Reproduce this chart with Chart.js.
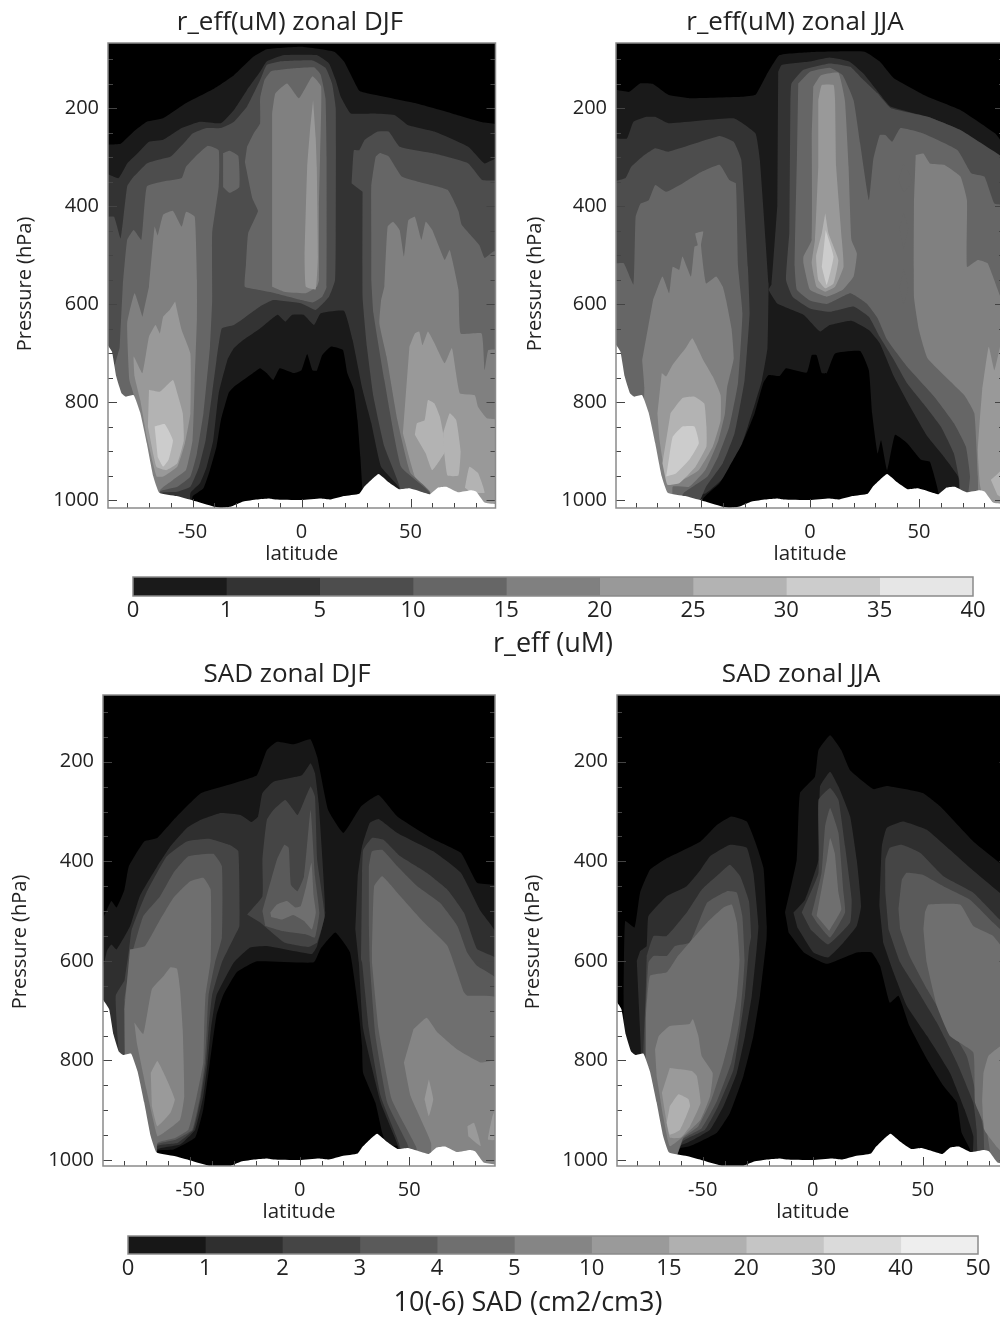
<!DOCTYPE html>
<html>
<head>
<meta charset="utf-8">
<title>r_eff and SAD zonal means</title>
<script src="https://cdn.jsdelivr.net/npm/chart.js@4"></script>
<style>
    html, body { margin: 0; padding: 0; background: #fff; }
    #page { position: relative; width: 1000px; height: 1317px; overflow: hidden; }
    canvas { position: absolute; filter: blur(0.5px); }
</style>
</head>
<body>
<div id="page"></div>
<script>
// tick labels and colour bars
const latTicks = [-50, 0, 50];
const pressureTicks = [200, 400, 600, 800, 1000];
const pressureGrid = [100, 150, 200, 250, 300, 350, 400, 450, 500, 550, 600, 650, 700, 750, 800, 850, 900, 950, 1000];
const reffLevels = ['0', '1', '5', '10', '15', '20', '25', '30', '35', '40'];
const sadLevels = ['0', '1', '2', '3', '4', '5', '10', '15', '20', '30', '40', '50'];
const reffGreys = ['#000000', '#1a1a1a', '#333333', '#4d4d4d', '#666666', '#808080', '#999999', '#b3b3b3', '#cccccc', '#e6e6e6'];
const sadGreys = ['#000000', '#171717', '#2f2f2f', '#454545', '#5a5a5a', '#6f6f6f', '#858585', '#9a9a9a', '#b0b0b0', '#c5c5c5', '#dadada', '#eeeeee'];

// every contour below is [latitude, pressure hPa]
const surface = [[-90, 677], [-87, 697], [-85, 748], [-82.6, 782], [-80.6, 789], [-77, 786], [-74, 822], [-71, 884], [-68, 952], [-65.3, 985], [-57.3, 992], [-49.8, 1001], [-40.5, 1013], [-36.5, 1016], [-32.7, 1014], [-26.7, 1003], [-20.4, 999], [-15, 997], [-12, 999], [0, 1000], [8.8, 997], [13.4, 999], [19.4, 992], [26.5, 987], [28.8, 973], [35.3, 947], [40, 964], [44.7, 978], [49.5, 976], [55.6, 984], [59, 988], [62.5, 975], [66.4, 973], [71.7, 984], [77.9, 980], [80.2, 983], [84, 1005], [90, 1010], [90, 1040], [-90, 1040]];
const sky = [[-90, 40], [90, 40], [90, 1040], [-90, 1040]];

// r_eff DJF
const reffDjfL1 = [[-90, 275], [-83, 273], [-77, 248], [-71, 228], [-63.5, 221], [-53, 190], [-40, 160], [-31, 133], [-22, 95], [-16, 80], [0, 75], [15, 85], [19.5, 105], [26.5, 165], [30, 170], [52, 190], [69, 211], [83, 229], [90, 235], [90, 1040], [-90, 1040]];
const reffDjfL2 = [[-90, 333], [-84, 343], [-80, 313], [-76, 296], [-70, 269], [-63.5, 265], [-55, 241], [-46.6, 228], [-37, 231], [-31, 204], [-25, 163], [-19, 126], [-16, 105], [-8, 92], [7, 92], [12.6, 109], [15.7, 143], [18, 177], [22.6, 211], [33, 211], [42.6, 214], [49, 235], [61, 248], [76.5, 279], [84, 313], [90, 303], [90, 1040], [-90, 1040]];
const reffDjfNotch = [[-51, 1040], [-51, 986], [-46.6, 966], [-43.5, 932], [-40.5, 878], [-38, 782], [-34, 714], [-31, 690], [-26.6, 673], [-19, 650], [-11, 622], [-7.4, 636], [-4.3, 622], [1, 622], [5.7, 643], [8.8, 619], [19.5, 614], [23.4, 673], [28, 775], [32, 843], [36.5, 932], [45, 976], [45, 1040]];
const reffDjfHole = [[-50, 1040], [-50, 993], [-45, 976], [-42, 939], [-39, 891], [-37, 837], [-33.5, 782], [-31, 769], [-23.5, 745], [-19, 731], [-16, 741], [-13, 755], [-10, 731], [-3.5, 741], [0, 735], [2.6, 702], [5, 735], [7, 736], [9.5, 704], [13.4, 687], [19, 694], [21, 741], [24, 775], [25.7, 837], [27, 912], [28, 986], [28, 1040]];
const reffDjfL3a = [[-90, 422], [-86, 422], [-83, 466], [-80, 360], [-77, 340], [-71, 313], [-67, 307], [-60, 299], [-54, 272], [-50, 252], [-43.5, 241], [-37, 241], [-31, 228], [-25, 197], [-19, 143], [-16, 112], [-10, 105], [5, 103], [11, 118], [14, 150], [15.7, 200], [15.7, 456], [15.4, 551], [12.6, 585], [6.5, 612], [0, 599], [-13, 592], [-19, 605], [-31, 643], [-36.6, 650], [-39, 714], [-41, 782], [-44, 878], [-47, 932], [-51, 973], [-57, 983], [-65, 986], [-65, 1040], [-90, 1040]];
const reffDjfL3b = [[23, 354], [24, 286], [26.5, 286], [29, 265], [35, 248], [40, 248], [45, 279], [61, 293], [76.5, 313], [83, 347], [90, 350], [90, 1040], [45, 1040], [45, 973], [38, 891], [33, 789], [30, 687], [28, 585], [28, 371]];
const reffDjfL4a = [[-82, 560], [-80, 469], [-77, 449], [-73.5, 469], [-71, 360], [-63.5, 350], [-55, 343], [-53, 320], [-48, 296], [-43, 277], [-38, 286], [-38, 360], [-41, 456], [-41, 592], [-42, 687], [-45, 823], [-48, 905], [-51, 952], [-57, 973], [-65, 983], [-65, 1040], [-90, 1040], [-90, 800], [-83.5, 690]];
const reffDjfL4b = [[-36, 292], [-33, 287], [-29, 298], [-28.5, 361], [-33, 373], [-36, 361]];
const reffDjfL4c = [[-25, 279], [-22, 252], [-19, 231], [-19, 180], [-17, 143], [-14, 125], [-3.5, 119], [5.7, 117], [8.8, 132], [11, 180], [11.5, 300], [11.5, 565], [9.5, 585], [5, 597], [0, 592], [-13, 577], [-20, 571], [-26, 565], [-25.5, 520], [-24.5, 456], [-20, 410], [-22.5, 385], [-26, 310]];
const reffDjfL4d = [[32, 456], [32, 360], [34, 300], [36, 292], [40, 299], [46, 340], [53, 350], [67, 367], [72, 410], [73.5, 438], [81.5, 479], [84, 506], [88, 493], [90, 493], [90, 1040], [55, 1040], [59, 986], [45.7, 932], [38, 755], [33, 619], [32, 551]];
const reffDjfL5a = [[-70, 565], [-67.4, 442], [-66, 460], [-63.5, 418], [-59, 410], [-55, 442], [-53, 412], [-49, 422], [-48, 551], [-48, 630], [-49, 755], [-50, 878], [-53, 939], [-59, 959], [-65, 980], [-65, 1040], [-77, 1040], [-77, 786], [-79, 755], [-80, 639], [-76.6, 578], [-73, 626]];
const reffDjfL5b = [[-13.5, 211], [-12, 170], [-6.6, 150], [-1.2, 180], [5, 135], [9, 156], [8.5, 300], [8, 400], [8, 551], [7, 565], [2, 578], [-8, 575], [-13.5, 565]];
const reffDjfL5c = [[38, 565], [39.5, 442], [42, 432], [45, 449], [47, 503], [49, 429], [52, 422], [55, 469], [57, 432], [60, 449], [65.7, 510], [68, 490], [72, 571], [73, 660], [82.6, 660], [84, 735], [85.7, 694], [90, 694], [90, 1040], [60, 1040], [59.5, 983], [50, 945], [44, 837], [39, 707], [35.7, 639], [36.5, 592]];
const reffDjfL6a = [[-58, 595], [-55, 653], [-51, 701], [-51, 823], [-53.5, 884], [-57, 932], [-63.5, 952], [-66.5, 952], [-71, 871], [-74, 796], [-76.6, 748], [-77, 707], [-73, 741], [-70, 667], [-67, 643], [-65, 660], [-63.5, 626], [-60.5, 612]];
const reffDjfL6b = [[5.3, 184], [6.5, 260], [7, 320], [7.5, 503], [6.5, 570], [2, 565], [1.4, 503], [2.6, 320], [4, 240]];
const reffDjfL6c = [[49.5, 687], [52, 660], [54, 656], [55.5, 684], [58, 656], [61, 680], [65.7, 721], [69, 690], [72.6, 782], [79.5, 786], [81, 810], [85, 833], [90, 837], [90, 1040], [59, 1040], [59, 983], [52, 952], [46.5, 864]];
const reffDjfL7a = [[-70, 775], [-65, 779], [-59, 755], [-57, 782], [-54.5, 823], [-54, 878], [-57, 925], [-62, 939], [-66.6, 932], [-70.5, 850]];
const reffDjfL7b = [[52, 867], [53, 843], [56.5, 837], [58, 796], [61, 803], [63.5, 830], [65, 864], [66, 900], [60, 939], [57, 905]];
const reffDjfL7c = [[65, 864], [68, 823], [71, 837], [73, 900], [72, 950], [67, 950], [65.5, 905]];
const reffDjfL7d = [[75, 975], [77, 932], [81, 945], [84, 985], [78, 985]];
const reffDjfL8 = [[-67.4, 850], [-62.8, 845], [-59, 878], [-61, 918], [-63.5, 932], [-66, 912]];

// r_eff JJA
const reffJjaL1 = [[-90, 162], [-83, 167], [-78, 150], [-72, 151], [-65, 173], [-55, 180], [-31, 177], [-25, 173], [-20, 133], [-14, 92], [0, 86], [25, 85], [32, 105], [38.5, 139], [54, 177], [69, 204], [85, 252], [88, 269], [90, 275], [90, 1040], [-90, 1040]];
const reffJjaL2a = [[-90, 262], [-84, 262], [-81, 228], [-75, 218], [-71, 218], [-65, 231], [-35, 221], [-25, 252], [-23, 306], [-19, 558], [-19, 571], [-19.5, 690], [-22, 755], [-25, 800], [-28.5, 850], [-32, 895], [-38.5, 950], [-47.7, 986], [-57, 992], [-65, 1040], [-90, 1040]];
const reffJjaL2b = [[-14.6, 126], [-13, 112], [0, 105], [9, 97], [18, 105], [24.6, 130], [30, 160], [37, 197], [54, 218], [69, 245], [88, 303], [90, 310], [90, 1040], [68.5, 1040], [68.5, 980], [68, 952], [61.5, 912], [54, 871], [46, 810], [38.5, 748], [32, 680], [27, 653], [19, 634], [9, 643], [4.6, 656], [-3, 622], [-15, 599], [-19, 571], [-17.7, 560], [-15, 400]];
const reffJjaHole = [[-49, 1040], [-49, 997], [-41.5, 966], [-37, 932], [-31, 884], [-25.4, 823], [-21.5, 762], [-19, 745], [-14, 747], [-11, 731], [-1.5, 740], [0.8, 704], [3, 704], [5.4, 741], [7.7, 741], [11.5, 701], [23, 696], [27, 735], [28.5, 823], [31, 905], [32.6, 878], [35.4, 939], [39, 867], [44.6, 884], [51, 918], [55, 922], [59, 986], [59, 1040]];
const reffJjaL3a = [[-90, 350], [-84.6, 343], [-82, 320], [-76, 296], [-71, 282], [-65, 289], [-41.5, 257], [-35, 269], [-31.5, 306], [-28.5, 524], [-27.7, 619], [-30, 755], [-34.6, 864], [-40, 925], [-47.7, 973], [-55, 1040], [-90, 1040]];
const reffJjaL3b = [[-9, 184], [-8.5, 150], [-3, 122], [9, 109], [18.5, 116], [23, 136], [31, 170], [37, 200], [54, 218], [69, 245], [88, 299], [90, 305], [90, 1040], [70, 1040], [68.5, 959], [66, 905], [60, 850], [52, 803], [44.6, 762], [38.5, 714], [32, 667], [27, 626], [20, 605], [9, 616], [0, 609], [-8, 585], [-11, 551], [-9.5, 456]];
const reffJjaL4a = [[-89, 517], [-85.4, 517], [-81, 560], [-80, 422], [-77.7, 395], [-74, 388], [-71, 357], [-66, 371], [-58.5, 354], [-51, 333], [-41.5, 316], [-37, 347], [-34, 354], [-33, 524], [-31, 619], [-33, 760], [-37, 850], [-42, 910], [-47, 952], [-58, 986], [-65, 1040], [-90, 1040], [-90, 640]];
const reffJjaL4b = [[-5.4, 150], [0, 126], [9, 118], [15, 133], [20, 184], [23, 272], [27, 388], [29, 306], [32, 255], [34.6, 255], [37.7, 269], [41.5, 241], [52, 252], [67.7, 286], [74, 333], [80, 340], [84.6, 395], [90, 400], [90, 1040], [72, 1040], [73.4, 952], [71.5, 891], [66, 843], [57, 789], [44.6, 728], [35.4, 673], [31, 629], [26, 599], [18.5, 578], [7.7, 600], [0, 593], [-6, 571], [-7, 524], [-6, 300]];
const reffJjaL5a = [[-72, 592], [-67.7, 544], [-64.6, 578], [-63, 524], [-60, 530], [-58.5, 503], [-54.6, 544], [-53, 483], [-51.5, 480], [-52.6, 456], [-49, 452], [-50, 480], [-47.7, 558], [-43, 544], [-40, 565], [-38.5, 592], [-36, 650], [-35, 711], [-38, 770], [-39, 823], [-42, 878], [-48, 939], [-55.4, 973], [-63, 973], [-63, 1040], [-77, 1040], [-76, 770], [-77, 714]];
const reffJjaL5b = [[1.5, 156], [5, 133], [13, 128], [16, 184], [17.7, 320], [19, 469], [21.5, 497], [20, 544], [15, 571], [7.7, 585], [0, 571], [-3, 517], [-3, 503], [0.8, 469], [0.8, 252]];
const reffJjaL5c = [[48.5, 296], [52, 293], [55, 313], [61.5, 316], [69, 340], [72, 388], [72, 524], [77, 510], [81.5, 517], [88, 592], [90, 590], [90, 1040], [78, 1040], [77, 952], [75.4, 823], [70.8, 786], [54, 711], [50, 653], [47.7, 585], [47.7, 388]];
const reffJjaL5d = [[43, 313], [47, 350], [43, 371], [40.6, 347]];
const reffJjaL5e = [[43, 415], [45, 445], [43, 486], [41, 445]];
const reffJjaL5f = [[43, 530], [45, 565], [43, 600], [41, 565]];
const reffJjaL6a = [[-68, 741], [-66, 748], [-63, 724], [-57, 690], [-54, 670], [-49, 714], [-44.6, 748], [-41, 786], [-41, 837], [-44.6, 891], [-51, 939], [-58.5, 959], [-66, 952], [-69, 878], [-70, 823]];
const reffJjaL6b = [[3.8, 184], [5.4, 153], [10.8, 153], [11.5, 184], [12, 320], [14.6, 469], [15.4, 524], [11.5, 565], [7, 575], [3, 565], [0.8, 517], [2.3, 469], [3.8, 320]];
const reffJjaL6c = [[79, 775], [82, 687], [84.6, 735], [88, 673], [90, 670], [90, 1040], [82, 1040], [78, 970], [77, 900], [78, 830]];
const reffJjaL7a = [[-64, 823], [-58.5, 792], [-53, 789], [-48.5, 803], [-47.5, 850], [-47.5, 891], [-52.5, 932], [-60, 966], [-65.4, 969], [-67.7, 925]];
const reffJjaL7b = [[7, 415], [8.5, 456], [13, 510], [10.8, 558], [7, 568], [3.8, 551], [2.8, 503], [5.4, 456]];
const reffJjaL7c = [[83, 959], [88, 939], [90, 930], [90, 1000], [86, 990]];
const reffJjaL8a = [[-64.6, 912], [-63, 871], [-58.5, 850], [-53, 850], [-51, 884], [-55.4, 918], [-61.5, 946], [-66, 952]];
const reffJjaL8b = [[7.2, 449], [10.8, 503], [7.7, 561], [5.4, 524]];

// SAD DJF
const sadDjfL1 = [[-90, 517], [-86, 480], [-83.6, 493], [-80, 457], [-78, 410], [-71, 360], [-65, 353], [-57.6, 317], [-45, 263], [-30, 243], [-19.5, 227], [-15, 177], [-10.4, 160], [-2.7, 165], [4.9, 155], [8, 190], [13, 297], [20, 343], [28, 290], [36, 267], [44.6, 310], [60, 353], [73.6, 383], [81, 443], [90, 450], [90, 1040], [-90, 1040]];
const sadDjfHole = [[-65, 1040], [-65, 982], [-57.6, 979], [-47.7, 955], [-44, 898], [-41, 804], [-38, 710], [-35, 670], [-28.7, 623], [-19.5, 601], [6.4, 603], [9.5, 576], [16.3, 543], [23, 583], [27, 704], [28.5, 771], [29, 825], [34.6, 885], [37.7, 945], [40, 972], [44.6, 972], [44.6, 1040]];
const sadDjfL2a = [[-90, 620], [-88, 580], [-86, 567], [-83.6, 577], [-77.4, 530], [-73, 470], [-65, 410], [-59, 370], [-51.5, 333], [-45.4, 317], [-36, 303], [-27, 307], [-22, 321], [-19, 310], [-17, 263], [-12, 240], [1, 227], [5, 203], [7, 223], [8.7, 283], [11.7, 503], [8, 570], [5.6, 586], [-15, 570], [-22.6, 573], [-30, 603], [-38, 670], [-40.5, 737], [-42, 804], [-44, 872], [-47.7, 939], [-54.6, 969], [-65, 979], [-65, 1040], [-90, 1040]];
const sadDjfL2b = [[26.5, 430], [28.5, 370], [32, 323], [36, 315], [44.6, 343], [61, 380], [73.6, 423], [82.6, 500], [90, 547], [90, 1040], [48, 1040], [45, 972], [37, 885], [29, 737], [27, 603], [25.4, 536]];
const sadDjfL3a = [[-78, 580], [-76.7, 537], [-70, 463], [-60.7, 390], [-51.5, 360], [-41, 355], [-32, 367], [-28, 380], [-27.5, 530], [-30, 553], [-35.5, 603], [-40, 670], [-41.6, 737], [-42.7, 804], [-45, 872], [-48.5, 939], [-56, 966], [-65, 972], [-65, 1040], [-78, 1040], [-83, 760], [-84, 670], [-80, 640]];
const sadDjfL3b = [[-24, 507], [-17, 470], [-17, 397], [-15, 317], [-12, 297], [-6.5, 277], [-1, 307], [1, 290], [5, 250], [7, 270], [8, 397], [11.4, 510], [8, 563], [4, 572], [-7, 563], [-18, 523]];
const sadDjfL3c = [[28.5, 423], [29, 377], [33, 353], [38.4, 357], [46, 390], [58, 423], [67.5, 457], [75, 503], [81, 576], [90, 596], [90, 1040], [50, 1040], [45.3, 966], [37, 872], [31.6, 737], [28.5, 603], [28, 597]];
const sadDjfL4a = [[-76, 577], [-71.4, 510], [-63.7, 470], [-57.6, 423], [-50.8, 390], [-39.4, 385], [-35.5, 410], [-35.5, 553], [-38.6, 603], [-41.6, 670], [-42.4, 737], [-43.3, 804], [-45.4, 872], [-49, 939], [-57, 960], [-65, 969], [-65, 1040], [-78, 1040], [-80, 680], [-78, 620]];
const sadDjfL4b = [[-17, 500], [-10.4, 397], [-7, 367], [-5, 373], [-4, 447], [-1, 460], [2, 430], [5, 297], [7, 430], [9, 503], [7, 553], [3, 547], [-8, 540], [-15.7, 530]];
const sadDjfL4c = [[31.6, 410], [33, 380], [37.7, 377], [44.6, 410], [53.7, 450], [64, 483], [72, 530], [76.5, 583], [81, 610], [90, 637], [90, 1040], [55, 1040], [49, 966], [40, 885], [34.6, 751], [32, 603], [31.6, 530]];
const sadDjfL5a = [[-77.5, 577], [-70.6, 570], [-63.7, 517], [-57.6, 473], [-50, 440], [-44, 433], [-40.6, 457], [-40.6, 597], [-43, 670], [-43.6, 737], [-44, 804], [-47, 872], [-50.8, 939], [-57.6, 957], [-65, 966], [-66, 1040], [-78, 1040], [-80, 700], [-79, 650]];
const sadDjfL5b = [[-13.4, 503], [-10.4, 487], [-5.8, 480], [-2, 493], [0.5, 490], [3, 450], [5.4, 403], [6.4, 470], [7.4, 503], [5.6, 537], [2, 520], [-3, 508], [-8, 517], [-13, 512]];
const sadDjfL5c = [[33, 583], [34, 450], [37.7, 430], [46, 470], [56.8, 523], [67.5, 570], [75, 663], [76.6, 670], [90, 674], [90, 1040], [58, 1040], [53, 972], [42, 878], [36, 737], [33, 603]];
const sadDjfL6a = [[-75.5, 724], [-71.4, 747], [-67.5, 657], [-62, 630], [-59, 613], [-56, 616], [-54.6, 657], [-53.4, 737], [-52.7, 872], [-54.6, 919], [-62, 945], [-65, 952], [-70, 858], [-74.4, 764]];
const sadDjfL6b = [[52, 737], [58, 714], [63, 744], [72, 778], [82.6, 804], [90, 801], [90, 1040], [60, 1040], [60, 966], [50.7, 872], [47.6, 804]];
const sadDjfL7a = [[-68, 825], [-65, 801], [-61.4, 831], [-57, 878], [-59, 905], [-65, 932], [-67.5, 892]];
const sadDjfL7b = [[59, 838], [61, 878], [59, 912], [57, 878]];
const sadDjfL7c = [[76.6, 932], [79.6, 925], [82.7, 972], [77, 952]];
const sadDjfL7d = [[88, 912], [86, 959], [90, 959], [90, 890]];

// SAD JJA
const sadJjaL1a = [[-86, 670], [-85.3, 520], [-81, 533], [-78.5, 463], [-74, 417], [-66, 393], [-51, 360], [-43.6, 327], [-37, 310], [-30, 320], [-26.2, 360], [-22.4, 413], [-20.9, 530], [-21, 556], [-24, 670], [-27, 751], [-31.5, 831], [-37.6, 905], [-43.6, 945], [-55.8, 972], [-65, 982], [-65, 1040], [-86, 1040]];
const sadJjaL1b = [[-12.6, 503], [-7.3, 397], [-5.8, 263], [1, 230], [2.6, 177], [7.9, 147], [13, 177], [17, 217], [27.6, 255], [33.6, 249], [50, 263], [58, 290], [73, 360], [85, 403], [90, 425], [90, 1040], [71.5, 1040], [71.5, 979], [67.7, 945], [65.5, 885], [59.4, 851], [52, 798], [44, 731], [39, 670], [35, 684], [30.6, 610], [26.8, 583], [20, 583], [6.4, 606], [-4, 583], [-11, 543]];
const sadJjaL2a = [[-78.5, 580], [-75.5, 570], [-74.7, 510], [-66.4, 470], [-57.3, 450], [-51, 417], [-46.7, 390], [-37.6, 367], [-30, 373], [-27, 423], [-24.7, 530], [-25.5, 576], [-27.7, 670], [-30.8, 751], [-34.5, 825], [-40.6, 892], [-46.7, 939], [-57.3, 966], [-65, 979], [-65, 1040], [-78, 1040], [-78, 790], [-80, 600]];
const sadJjaL2b = [[-8.8, 503], [-3.5, 477], [2.6, 397], [3.3, 250], [7.9, 220], [11.7, 250], [17, 310], [20, 397], [22, 490], [20, 530], [14, 563], [7, 593], [0.3, 583], [-7, 533]];
const sadJjaL2c = [[30.3, 490], [31.4, 370], [33.6, 333], [41, 320], [52, 337], [62.4, 377], [71.5, 413], [85, 463], [90, 480], [90, 1040], [73, 1040], [73, 952], [69, 898], [62.4, 825], [52, 751], [42.7, 690], [36.7, 623], [32, 563]];
const sadJjaL3a = [[-75.5, 590], [-72.4, 550], [-66.4, 550], [-57.3, 503], [-50.5, 457], [-42, 423], [-37.6, 407], [-33, 430], [-29, 480], [-28, 550], [-29, 576], [-30.8, 670], [-33, 737], [-36, 818], [-43, 892], [-49, 939], [-59, 962], [-66, 1040], [-77, 1040], [-77, 786], [-76, 670]];
const sadJjaL3b = [[-5, 503], [2.6, 423], [2.6, 277], [7.9, 253], [11.7, 277], [14.7, 370], [17.7, 477], [17, 523], [7, 567], [-1, 537]];
const sadJjaL3c = [[33, 463], [33, 397], [35, 373], [40.5, 367], [48.8, 383], [59.4, 430], [73, 463], [85, 517], [90, 535], [90, 1040], [76, 1040], [74.5, 939], [73, 885], [65.5, 804], [56.4, 724], [47.3, 657], [39.7, 603], [34.4, 536]];
const sadJjaL4a = [[-76, 704], [-74.7, 603], [-72.4, 590], [-66.4, 590], [-62.6, 570], [-55.8, 563], [-48, 483], [-39, 460], [-34.5, 463], [-32, 510], [-31, 597], [-31.5, 637], [-33.4, 724], [-37, 804], [-43.6, 882], [-50.5, 936], [-59, 958], [-66, 1040], [-76, 1040], [-74, 800]];
const sadJjaL4b = [[-0.5, 507], [4, 423], [5.6, 330], [7.9, 293], [11.7, 343], [14, 463], [14.7, 503], [7.9, 553], [1.8, 523]];
const sadJjaL4c = [[39, 497], [40.5, 437], [42.7, 423], [50, 427], [59.4, 450], [71.5, 477], [82, 523], [90, 560], [90, 1040], [79, 1040], [77.6, 939], [74.5, 872], [70, 791], [61, 724], [52, 657], [44, 590], [39.7, 536]];
const sadJjaL5a = [[-76, 717], [-74, 630], [-66.4, 623], [-61.8, 593], [-48, 523], [-40.6, 493], [-36.8, 487], [-34.5, 523], [-33.3, 597], [-34.5, 670], [-37.6, 751], [-40.6, 804], [-46, 878], [-52, 932], [-58.8, 955], [-66, 1040], [-76, 1040]];
const sadJjaL5b = [[1.8, 510], [6.4, 397], [7.9, 353], [10, 383], [11.7, 463], [13, 497], [7.5, 540]];
const sadJjaL5c = [[51, 503], [52.6, 487], [67, 487], [73, 530], [82, 550], [90, 600], [90, 1040], [83, 1040], [79, 939], [73.8, 885], [73, 784], [62.4, 751], [56.4, 690], [51.8, 603], [50.3, 536]];
const sadJjaL6a = [[-71.7, 778], [-70, 751], [-65, 731], [-56, 727], [-54.5, 717], [-52, 751], [-50.5, 791], [-45.5, 825], [-46.7, 872], [-51, 919], [-58.8, 952], [-65, 972], [-68, 912], [-71, 831]];
const sadJjaL6b = [[77.6, 825], [80, 790], [90, 760], [90, 1000], [84, 975], [78, 939], [77, 880]];
const sadJjaL7 = [[-65, 815], [-55, 821], [-52.7, 831], [-51, 885], [-55.8, 932], [-60, 955], [-65, 955], [-68.6, 865]];
const sadJjaL8 = [[-65, 892], [-61, 868], [-56.5, 878], [-55.8, 892], [-60.3, 939], [-65, 949], [-66.4, 925]];

// paint order: [grey level, contour]
const reffDjfLayers = [[1, reffDjfL1], [2, reffDjfL2], [1, reffDjfNotch], [0, reffDjfHole], [3, reffDjfL3a], [3, reffDjfL3b], [4, reffDjfL4a], [4, reffDjfL4b], [4, reffDjfL4c], [4, reffDjfL4d], [5, reffDjfL5a], [5, reffDjfL5b], [5, reffDjfL5c], [6, reffDjfL6a], [6, reffDjfL6b], [6, reffDjfL6c], [7, reffDjfL7a], [7, reffDjfL7b], [7, reffDjfL7c], [7, reffDjfL7d], [8, reffDjfL8]];
const reffJjaLayers = [[1, reffJjaL1], [2, reffJjaL2a], [2, reffJjaL2b], [0, reffJjaHole], [3, reffJjaL3a], [3, reffJjaL3b], [4, reffJjaL4a], [4, reffJjaL4b], [5, reffJjaL5a], [5, reffJjaL5b], [5, reffJjaL5c], [4, reffJjaL5d], [4, reffJjaL5e], [4, reffJjaL5f], [6, reffJjaL6a], [6, reffJjaL6b], [6, reffJjaL6c], [7, reffJjaL7a], [7, reffJjaL7b], [7, reffJjaL7c], [8, reffJjaL8a], [8, reffJjaL8b]];
const sadDjfLayers = [[1, sadDjfL1], [0, sadDjfHole], [2, sadDjfL2a], [2, sadDjfL2b], [3, sadDjfL3a], [3, sadDjfL3b], [3, sadDjfL3c], [4, sadDjfL4a], [4, sadDjfL4b], [4, sadDjfL4c], [5, sadDjfL5a], [5, sadDjfL5b], [5, sadDjfL5c], [6, sadDjfL6a], [6, sadDjfL6b], [7, sadDjfL7a], [7, sadDjfL7b], [7, sadDjfL7c], [7, sadDjfL7d]];
const sadJjaLayers = [[1, sadJjaL1a], [1, sadJjaL1b], [2, sadJjaL2a], [2, sadJjaL2b], [2, sadJjaL2c], [3, sadJjaL3a], [3, sadJjaL3b], [3, sadJjaL3c], [4, sadJjaL4a], [4, sadJjaL4b], [4, sadJjaL4c], [5, sadJjaL5a], [5, sadJjaL5b], [5, sadJjaL5c], [6, sadJjaL6a], [6, sadJjaL6b], [7, sadJjaL7], [8, sadJjaL8]];

const FONT = '"Open Sans", sans-serif';
const INK = '#222222';
const FRAME = '#8a8a8a';

// ticks point into the plot in the original, Chart.js only draws them outward
const insideTicks = {
    id: 'insideTicks',
    afterDatasetsDraw(chart) {
        const { ctx, chartArea: area, scales: { x, y } } = chart;
        ctx.save();
        ctx.strokeStyle = '#444444';
        ctx.lineWidth = 1;
        ctx.beginPath();
        x.ticks.forEach(t => {
            const px = Math.round(x.getPixelForValue(t.value)) + 0.5;
            ctx.moveTo(px, area.bottom);
            ctx.lineTo(px, area.bottom - (t.label ? 9 : 5));
        });
        y.ticks.forEach(t => {
            const py = Math.round(y.getPixelForValue(t.value)) + 0.5;
            const len = t.label ? 9 : 5;
            ctx.moveTo(area.left, py);
            ctx.lineTo(area.left + len, py);
            ctx.moveTo(area.right, py);
            ctx.lineTo(area.right - len, py);
        });
        ctx.stroke();
        ctx.restore();
    }
};

const frame = {
    id: 'frame',
    afterDatasetsDraw(chart) {
        const { ctx, chartArea: a } = chart;
        ctx.save();
        ctx.strokeStyle = FRAME;
        ctx.lineWidth = 1.5;
        ctx.strokeRect(a.left, a.top, a.right - a.left, a.bottom - a.top);
        ctx.restore();
    }
};

// labels that do not sit centred on their axis in the original
const placedText = {
    id: 'placedText',
    afterDraw(chart, args, opts) {
        const { ctx } = chart;
        ctx.save();
        ctx.font = opts.size + 'px ' + FONT;
        ctx.fillStyle = INK;
        ctx.textAlign = 'center';
        ctx.textBaseline = 'middle';
        ctx.translate(opts.x, opts.y);
        if (opts.rotated) ctx.rotate(-Math.PI / 2);
        ctx.fillText(opts.text, 0, 0);
        ctx.restore();
    }
};

function addCanvas(left, top, width, height) {
    const canvas = document.createElement('canvas');
    canvas.width = width;
    canvas.height = height;
    canvas.style.left = left + 'px';
    canvas.style.top = top + 'px';
    canvas.style.width = width + 'px';
    canvas.style.height = height + 'px';
    document.getElementById('page').appendChild(canvas);
    return canvas;
}

function drawPanel(p) {
    const canvas = addCanvas(p.left, p.top, p.width, p.height);
    const shape = (points, color) => ({
        data: points.map(([x, y]) => ({ x, y })),
        showLine: true,
        fill: 'shape',
        backgroundColor: color,
        borderWidth: 0,
        pointRadius: 0,
        tension: 0.12
    });
    const datasets = [shape(sky, '#000000')]
        .concat(p.layers.map(([level, points]) => shape(points, p.greys[level])))
        .concat([shape(surface, '#ffffff')]);
    datasets.forEach((d, i) => { d.order = datasets.length - i; });

    new Chart(canvas, {
        type: 'scatter',
        data: { datasets },
        plugins: [insideTicks, frame, placedText],
        options: {
            responsive: false,
            animation: false,
            events: [],
            plugins: {
                legend: { display: false },
                tooltip: { enabled: false },
                title: {
                    display: true,
                    text: p.title,
                    color: INK,
                    font: { family: FONT, size: 26, weight: 'normal' },
                    padding: { top: p.titleTop, bottom: p.titleBottom }
                },
                placedText: { text: 'Pressure (hPa)', x: p.yLabelX, y: p.yLabelY, size: 20, rotated: true }
            },
            scales: {
                x: {
                    type: 'linear',
                    min: p.latMin,
                    max: p.latMax,
                    afterFit(scale) { scale.height = p.axisHeight; },
                    grid: { display: false, drawTicks: false },
                    border: { display: false },
                    ticks: {
                        stepSize: 10,
                        includeBounds: false,
                        autoSkip: false,
                        maxRotation: 0,
                        padding: 12,
                        color: INK,
                        font: { family: FONT, size: 20 },
                        callback: v => latTicks.includes(v) ? String(v) : ''
                    },
                    title: {
                        display: true,
                        text: 'latitude',
                        color: INK,
                        font: { family: FONT, size: 20.5 },
                        padding: { top: 0, bottom: 2 }
                    }
                },
                y: {
                    type: 'linear',
                    reverse: true,
                    min: p.pMin,
                    max: p.pMax,
                    afterFit(scale) { scale.width = p.axisWidth; },
                    afterBuildTicks(scale) { scale.ticks = pressureGrid.map(value => ({ value })); },
                    grid: { display: false, drawTicks: false },
                    border: { display: false },
                    ticks: {
                        autoSkip: false,
                        padding: 9,
                        color: INK,
                        font: { family: FONT, size: 20 },
                        callback: v => pressureTicks.includes(v) ? String(v) : ''
                    }
                },
                // empty axis: holds the plot off the right side so the title can stay off-centre
                gap: {
                    type: 'linear',
                    position: 'right',
                    afterFit(scale) { scale.width = p.rightGap; },
                    grid: { display: false, drawTicks: false },
                    border: { display: false },
                    ticks: { display: false }
                }
            }
        }
    });
}

function drawColorBar(b) {
    const canvas = addCanvas(b.left, b.top, b.width, b.height);
    const bands = b.levels.slice(1).map((_, i) => ({
        data: [1],
        backgroundColor: b.greys[i + 1],
        borderWidth: 0,
        barPercentage: 1,
        categoryPercentage: 1
    }));
    new Chart(canvas, {
        type: 'bar',
        data: { labels: [b.label], datasets: bands },
        plugins: [frame, placedText],
        options: {
            indexAxis: 'y',
            responsive: false,
            animation: false,
            events: [],
            layout: { padding: { left: b.padLeft, right: b.padRight, top: b.padTop } },
            plugins: {
                legend: { display: false },
                tooltip: { enabled: false },
                placedText: { text: b.label, x: b.labelX, y: b.labelY, size: 27 }
            },
            scales: {
                x: {
                    type: 'linear',
                    stacked: true,
                    min: 0,
                    max: b.levels.length - 1,
                    afterFit(scale) { scale.height = b.axisHeight; },
                    grid: { display: false, drawTicks: false },
                    border: { display: false },
                    ticks: {
                        stepSize: 1,
                        autoSkip: false,
                        maxRotation: 0,
                        padding: 2,
                        color: INK,
                        font: { family: FONT, size: 22 },
                        callback: v => b.levels[v]
                    }
                },
                y: { stacked: true, display: false }
            }
        }
    });
}

document.addEventListener('DOMContentLoaded', () => {
    drawPanel({ title: 'r_eff(uM) zonal DJF', layers: reffDjfLayers, greys: reffGreys, left: 0, top: 0, width: 580, height: 568, rightGap: 84.5, axisWidth: 108, axisHeight: 60, titleTop: 6.5, titleBottom: 5.3, latMin: -88.8, latMax: 89, pMin: 67.3, pMax: 1016.3, yLabelX: 25, yLabelY: 284 });
    drawPanel({ title: 'r_eff(uM) zonal JJA', layers: reffJjaLayers, greys: reffGreys, left: 510, top: 0, width: 570, height: 568, rightGap: 76, axisWidth: 106, axisHeight: 60, titleTop: 6.5, titleBottom: 5.3, latMin: -89, latMax: 89, pMin: 67.3, pMax: 1016.3, yLabelX: 25, yLabelY: 284 });
    drawPanel({ title: 'SAD zonal DJF', layers: sadDjfLayers, greys: sadGreys, left: 0, top: 650, width: 574, height: 576, rightGap: 79, axisWidth: 103, axisHeight: 60, titleTop: 9.4, titleBottom: 4.4, latMin: -89.8, latMax: 89.2, pMin: 66, pMax: 1012, yLabelX: 20, yLabelY: 292 });
    drawPanel({ title: 'SAD zonal JJA', layers: sadJjaLayers, greys: sadGreys, left: 510, top: 650, width: 582, height: 576, rightGap: 83.5, axisWidth: 107, axisHeight: 60, titleTop: 9.4, titleBottom: 4.4, latMin: -89, latMax: 89, pMin: 66, pMax: 1012, yLabelX: 23, yLabelY: 292 });
    drawColorBar({ label: 'r_eff (uM)', levels: reffLevels, greys: reffGreys, left: 100, top: 570, width: 900, height: 95, padLeft: 33, padRight: 27, padTop: 7, axisHeight: 69, labelX: 453, labelY: 74 });
    drawColorBar({ label: '10(-6) SAD (cm2/cm3)', levels: sadLevels, greys: sadGreys, left: 100, top: 1229, width: 900, height: 88, padLeft: 28, padRight: 22, padTop: 7, axisHeight: 63, labelX: 428, labelY: 74 });
});
</script>
</body>
</html>
